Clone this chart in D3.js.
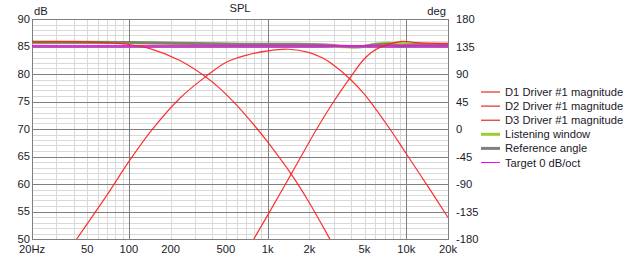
<!DOCTYPE html>
<html>
<head>
<meta charset="utf-8">
<script src="https://cdn.jsdelivr.net/npm/d3@7"></script>
<style>
  body { margin: 0; background: #fff; }
  text { font-family: "Liberation Sans", Arial, sans-serif; font-size: 11.2px; fill: #1a1a2a; }
</style>
</head>
<body>
<div id="chart"></div>
<script>
// Tick labels
var freqTicks = [20, 50, 100, 200, 500, 1000, 2000, 5000, 10000, 20000];
var freqTickLabels = ["20Hz", "50", "100", "200", "500", "1k", "2k", "5k", "10k", "20k"];
var dbTicks = [50, 55, 60, 65, 70, 75, 80, 85, 90];
var degTicks = [-180, -135, -90, -45, 0, 45, 90, 135, 180];

// D1 woofer (low pass)
var d1Freq = [20, 50, 100, 142, 233, 357, 454, 600, 812, 1000, 1480, 2000, 2768, 3600];
var d1Db   = [85.85, 85.85, 85.36, 84.6, 82.45, 79.5, 77.35, 74.3, 70.5, 67.65, 61.8, 56.6, 50.3, 45.0];

// D2 mid (band pass)
var d2Freq = [35, 42, 70, 100, 146, 233, 357, 500, 700, 1000, 1400, 2000, 2500, 3000, 3930, 5000, 7620, 10000, 15000, 20000];
var d2Db   = [47.0, 50.0, 58.1, 64.1, 69.8, 75.6, 79.5, 82.1, 83.4, 84.2, 84.5, 83.9, 82.9, 81.6, 79.1, 76.3, 70.0, 65.5, 58.8, 53.9];

// D3 tweeter (high pass)
var d3Freq = [650, 796, 1000, 1480, 2260, 3000, 3930, 4880, 5600, 6470, 9040, 12000, 15000, 20000];
var d3Db   = [46.0, 50.0, 54.3, 61.8, 70.0, 75.0, 79.3, 82.5, 83.9, 84.85, 85.9, 85.7, 85.6, 85.5];

// Listening window
var lwFreq = [20, 100, 300, 700, 1500, 2500, 3500, 4600, 6000, 7500, 10000, 15000, 20000];
var lwDb   = [85.7, 85.7, 85.5, 85.35, 85.35, 85.2, 84.95, 84.95, 85.4, 85.6, 85.5, 85.3, 85.3];

// Reference angle
var refFreq = [20, 100, 300, 700, 1500, 2500, 3500, 4600, 6000, 7500, 9000, 12000, 20000];
var refDb   = [85.8, 85.75, 85.55, 85.4, 85.4, 85.3, 85.05, 84.95, 85.3, 85.4, 85.15, 85.3, 85.45];

// Target 0 dB/oct
var targetFreq = [20, 20000];
var targetDb = [85.1, 85.1];

var svgWidth = 631;
var svgHeight = 257;

var plot = { left: 32, right: 448, top: 19, bottom: 239 };

var svg = d3.select("#chart")
  .append("svg")
  .attr("width", svgWidth)
  .attr("height", svgHeight);

var x = d3.scaleLog().domain([20, 20000]).range([plot.left, plot.right]);
var y = d3.scaleLinear().domain([50, 90]).range([plot.bottom, plot.top]);
var yDeg = d3.scaleLinear().domain([-180, 180]).range([plot.bottom, plot.top]);

// minor grid
var minorFreqs = [];
[10, 100, 1000].forEach(function (dec) {
  for (var k = 2; k <= 9; k++) {
    var f = dec * k;
    if (f > 20 && f < 20000 && f !== 100 && f !== 1000 && f !== 10000) minorFreqs.push(f);
  }
});
var minorDb = d3.range(51, 90).filter(function (d) { return d % 5 !== 0; });

var grid = svg.append("g").attr("shape-rendering", "crispEdges");

grid.selectAll(".vminor")
  .data(minorFreqs)
  .enter()
  .append("line")
  .attr("x1", function (d) { return Math.round(x(d)) + 0.5; })
  .attr("x2", function (d) { return Math.round(x(d)) + 0.5; })
  .attr("y1", plot.top)
  .attr("y2", plot.bottom)
  .attr("stroke", "#d9d9d9");

grid.selectAll(".hminor")
  .data(minorDb)
  .enter()
  .append("line")
  .attr("x1", plot.left)
  .attr("x2", plot.right)
  .attr("y1", function (d) { return Math.round(y(d)) + 0.5; })
  .attr("y2", function (d) { return Math.round(y(d)) + 0.5; })
  .attr("stroke", "#d9d9d9");

grid.selectAll(".vmajor")
  .data([100, 1000, 10000])
  .enter()
  .append("line")
  .attr("x1", function (d) { return Math.round(x(d)) + 0.5; })
  .attr("x2", function (d) { return Math.round(x(d)) + 0.5; })
  .attr("y1", plot.top)
  .attr("y2", plot.bottom)
  .attr("stroke", "#7f7f7f");

grid.selectAll(".hmajor")
  .data(dbTicks)
  .enter()
  .append("line")
  .attr("x1", plot.left)
  .attr("x2", plot.right)
  .attr("y1", function (d) { return Math.round(y(d)) + 0.5; })
  .attr("y2", function (d) { return Math.round(y(d)) + 0.5; })
  .attr("stroke", "#7f7f7f");

// frame
grid.append("rect")
  .attr("x", plot.left + 0.5)
  .attr("y", plot.top + 0.5)
  .attr("width", plot.right - plot.left)
  .attr("height", plot.bottom - plot.top)
  .attr("fill", "none")
  .attr("stroke", "#7f7f7f");

// clip
svg.append("clipPath").attr("id", "clip")
  .append("rect")
  .attr("x", plot.left)
  .attr("y", plot.top)
  .attr("width", plot.right - plot.left)
  .attr("height", plot.bottom - plot.top);

var curves = svg.append("g").attr("clip-path", "url(#clip)");

var line = d3.line()
  .x(function (d) { return x(d[0]); })
  .y(function (d) { return y(d[1]); })
  .curve(d3.curveCatmullRom.alpha(0.5));

function drawCurve(freqs, vals, color, width, opacity) {
  curves.append("path")
    .datum(d3.zip(freqs, vals))
    .attr("d", line)
    .attr("fill", "none")
    .attr("stroke", color)
    .attr("stroke-width", width)
    .attr("stroke-opacity", opacity);
}

drawCurve(lwFreq, lwDb, "#9acd32", 3, 1);
drawCurve(refFreq, refDb, "#6e6e6e", 3, 0.75);
drawCurve(targetFreq, targetDb, "#ff00ff", 2, 0.9);
drawCurve(d1Freq, d1Db, "#ff1a1a", 1.2, 0.9);
drawCurve(d2Freq, d2Db, "#ff1a1a", 1.2, 0.9);
drawCurve(d3Freq, d3Db, "#ff1a1a", 1.2, 0.9);

// axis labels
svg.append("g").selectAll("text")
  .data(dbTicks)
  .enter()
  .append("text")
  .attr("x", 30)
  .attr("y", function (d) { return y(d) + 3.5; })
  .attr("text-anchor", "end")
  .text(function (d) { return d; });

svg.append("g").selectAll("text")
  .data(degTicks)
  .enter()
  .append("text")
  .attr("x", 456)
  .attr("y", function (d) { return yDeg(d) + 4; })
  .text(function (d) { return d; });

svg.append("g").selectAll("text")
  .data(freqTicks)
  .enter()
  .append("text")
  .attr("x", function (d) { return x(d); })
  .attr("y", 253)
  .attr("text-anchor", "middle")
  .text(function (d, i) { return freqTickLabels[i]; });

svg.append("text").attr("x", 34).attr("y", 15).text("dB");
svg.append("text").attr("x", 240).attr("y", 12).attr("text-anchor", "middle").text("SPL");
svg.append("text").attr("x", 446).attr("y", 15).attr("text-anchor", "end").text("deg");

// legend
var legendItems = [
  { name: "D1 Driver #1 magnitude", color: "#e00000", width: 1 },
  { name: "D2 Driver #1 magnitude", color: "#e00000", width: 1 },
  { name: "D3 Driver #1 magnitude", color: "#e00000", width: 1 },
  { name: "Listening window", color: "#9acd32", width: 3 },
  { name: "Reference angle", color: "#808080", width: 3 },
  { name: "Target 0 dB/oct", color: "#ff00ff", width: 1 }
];

var legend = svg.append("g").selectAll("g")
  .data(legendItems)
  .enter()
  .append("g")
  .attr("transform", function (d, i) { return "translate(0," + (92 + i * 14.1) + ")"; });

legend.append("line")
  .attr("x1", 481)
  .attr("x2", 500)
  .attr("y1", 0)
  .attr("y2", 0)
  .attr("stroke", function (d) { return d.color; })
  .attr("stroke-width", function (d) { return d.width; });

legend.append("text")
  .attr("x", 505)
  .attr("y", 4)
  .text(function (d) { return d.name; });
</script>
</body>
</html>
